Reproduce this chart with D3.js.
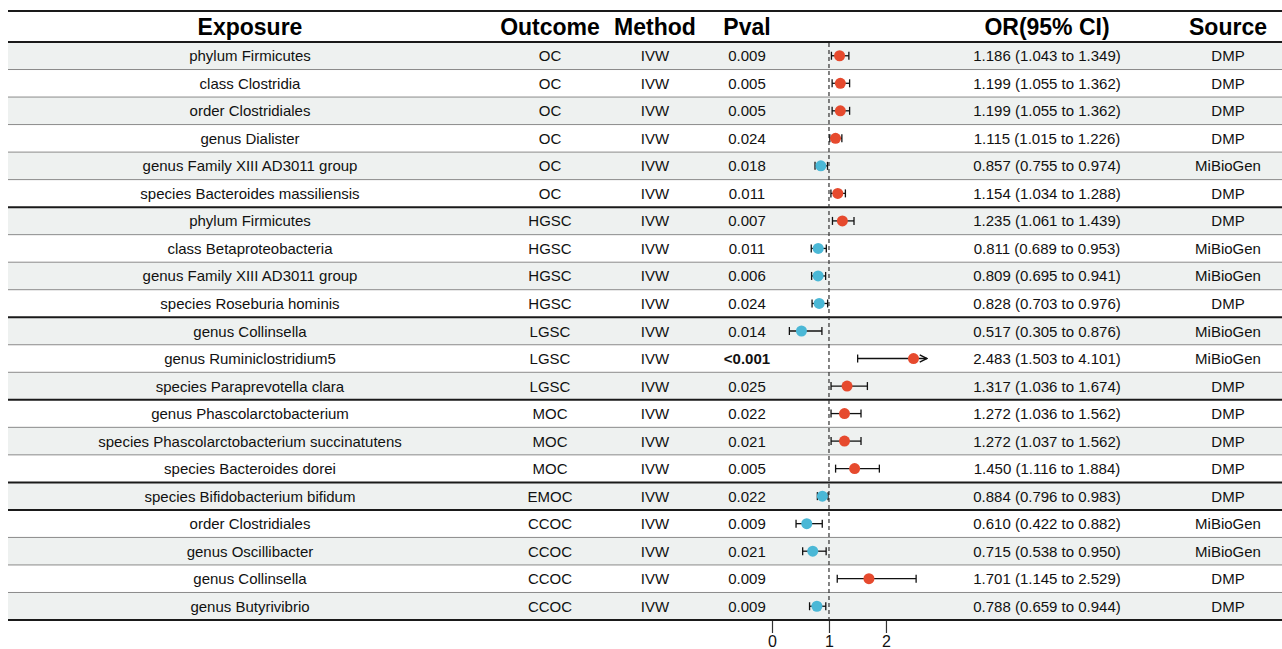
<!DOCTYPE html>
<html>
<head>
<meta charset="utf-8">
<script src="https://cdn.jsdelivr.net/npm/d3@7"></script>
<style>
  html, body { margin: 0; padding: 0; background: #fff; }
  svg text { font-family: "Liberation Sans", Arial, Helvetica, sans-serif; }
</style>
</head>
<body>
<svg id="chart" width="1282" height="649"></svg>
<script>
const exposures = ["phylum Firmicutes","class Clostridia","order Clostridiales","genus Dialister","genus Family XIII AD3011 group","species Bacteroides massiliensis","phylum Firmicutes","class Betaproteobacteria","genus Family XIII AD3011 group","species Roseburia hominis","genus Collinsella","genus Ruminiclostridium5","species Paraprevotella clara","genus Phascolarctobacterium","species Phascolarctobacterium succinatutens","species Bacteroides dorei","species Bifidobacterium bifidum","order Clostridiales","genus Oscillibacter","genus Collinsella","genus Butyrivibrio"];
const outcomes = ["OC","OC","OC","OC","OC","OC","HGSC","HGSC","HGSC","HGSC","LGSC","LGSC","LGSC","MOC","MOC","MOC","EMOC","CCOC","CCOC","CCOC","CCOC"];
const methods = Array(21).fill("IVW");
const pvals = ["0.009","0.005","0.005","0.024","0.018","0.011","0.007","0.011","0.006","0.024","0.014","<0.001","0.025","0.022","0.021","0.005","0.022","0.009","0.021","0.009","0.009"];
const orValues = [1.186,1.199,1.199,1.115,0.857,1.154,1.235,0.811,0.809,0.828,0.517,2.483,1.317,1.272,1.272,1.450,0.884,0.610,0.715,1.701,0.788];
const ciLower = [1.043,1.055,1.055,1.015,0.755,1.034,1.061,0.689,0.695,0.703,0.305,1.503,1.036,1.036,1.037,1.116,0.796,0.422,0.538,1.145,0.659];
const ciUpper = [1.349,1.362,1.362,1.226,0.974,1.288,1.439,0.953,0.941,0.976,0.876,4.101,1.674,1.562,1.562,1.884,0.983,0.882,0.950,2.529,0.944];
const sources = ["DMP","DMP","DMP","DMP","MiBioGen","DMP","DMP","MiBioGen","MiBioGen","DMP","MiBioGen","MiBioGen","DMP","DMP","DMP","DMP","DMP","MiBioGen","MiBioGen","DMP","DMP"];
const headers = ["Exposure","Outcome","Method","Pval","","OR(95% CI)","Source"];
const xTicks = [0,1,2];

const svg = d3.select("#chart");
const n = exposures.length;
const left = 8, right = 1282;
const tableTop = 11, headerBottom = 42, tableBottom = 620;

const y = d3.scaleBand().domain(d3.range(n)).range([headerBottom, tableBottom]).padding(0);
const x = d3.scaleLinear().domain([0, 2.72]).range([772, 927]);

const colX = {exposure: 250, outcome: 550, method: 655, pval: 747, or: 1047, source: 1228};
const fmt = d3.format(".3f");

// stripes
svg.append("g").selectAll("rect").data(d3.range(n).filter(i => i % 2 === 0)).join("rect")
  .attr("x", left).attr("width", right - left)
  .attr("y", i => y(i)).attr("height", y.bandwidth())
  .attr("fill", "#eef1f0");

// row separators
const groupEnds = new Set();
for (let i = 0; i < n - 1; i++) if (outcomes[i] !== outcomes[i + 1]) groupEnds.add(i);
svg.append("g").selectAll("line").data(d3.range(n - 1)).join("line")
  .attr("x1", left).attr("x2", right)
  .attr("y1", i => y(i) + y.bandwidth()).attr("y2", i => y(i) + y.bandwidth())
  .attr("stroke", i => groupEnds.has(i) ? "#1a1a1a" : "#8a8a8a")
  .attr("stroke-width", i => groupEnds.has(i) ? 2 : 1);

// main lines
[tableTop, headerBottom, tableBottom].forEach(yy => {
  svg.append("line").attr("x1", left).attr("x2", right).attr("y1", yy).attr("y2", yy)
    .attr("stroke", "#1a1a1a").attr("stroke-width", 2.2);
});

// headers
const headerPos = [colX.exposure, colX.outcome, colX.method, colX.pval, null, colX.or, colX.source];
svg.append("g").selectAll("text").data(headers.map((h, i) => ({h, x: headerPos[i]})).filter(d => d.h))
  .join("text")
  .attr("x", d => d.x).attr("y", 35)
  .attr("text-anchor", "middle")
  .attr("font-size", 23).attr("font-weight", "bold").attr("fill", "#000")
  .text(d => d.h);

// body text
const rows = d3.range(n).map(i => ({i,
  exposure: exposures[i], outcome: outcomes[i], method: methods[i], pval: pvals[i],
  or: `${fmt(orValues[i])} (${fmt(ciLower[i])} to ${fmt(ciUpper[i])})`, source: sources[i]}));
const cols = ["exposure","outcome","method","pval","or","source"];
const body = svg.append("g");
cols.forEach(c => {
  body.selectAll(null).data(rows).join("text")
    .attr("x", colX[c]).attr("y", d => y(d.i) + y.bandwidth() / 2 + 5.5)
    .attr("text-anchor", "middle").attr("font-size", 15).attr("fill", "#111")
    .attr("font-weight", d => (c === "pval" && d.pval.startsWith("<")) ? "bold" : "normal")
    .text(d => d[c]);
});

// reference line
svg.append("line").attr("x1", x(1)).attr("x2", x(1)).attr("y1", headerBottom + 1).attr("y2", tableBottom)
  .attr("stroke", "#333").attr("stroke-width", 1.2).attr("stroke-dasharray", "4,3");

// arrow marker
svg.append("defs").append("marker").attr("id", "arrow")
  .attr("viewBox", "0 0 10 10").attr("refX", 9).attr("refY", 5)
  .attr("markerWidth", 7).attr("markerHeight", 7).attr("orient", "auto")
  .append("path").attr("d", "M1,1 L9,5 L1,9").attr("fill", "none").attr("stroke", "#111").attr("stroke-width", 1.6);

// whiskers
const xmax = x.domain()[1];
const fg = svg.append("g");
rows.forEach(d => {
  const cy = y(d.i) + y.bandwidth() / 2;
  const lo = ciLower[d.i], hi = Math.min(ciUpper[d.i], xmax), clipped = ciUpper[d.i] > xmax;
  fg.append("line").attr("x1", x(lo)).attr("x2", x(hi)).attr("y1", cy).attr("y2", cy)
    .attr("stroke", "#111").attr("stroke-width", 1.3)
    .attr("marker-end", clipped ? "url(#arrow)" : null);
  fg.append("line").attr("x1", x(lo)).attr("x2", x(lo)).attr("y1", cy - 4).attr("y2", cy + 4)
    .attr("stroke", "#111").attr("stroke-width", 1.3);
  if (!clipped) fg.append("line").attr("x1", x(hi)).attr("x2", x(hi)).attr("y1", cy - 4).attr("y2", cy + 4)
    .attr("stroke", "#111").attr("stroke-width", 1.3);
  fg.append("circle").attr("cx", x(orValues[d.i])).attr("cy", cy).attr("r", 5.5)
    .attr("fill", orValues[d.i] >= 1 ? "#e64a2e" : "#4bb8d6");
});

// axis
const axis = d3.axisBottom(x).tickValues(xTicks).tickSize(12).tickPadding(3).tickFormat(d3.format("d"));
const ag = svg.append("g").attr("transform", `translate(0,${tableBottom + 1})`).call(axis);
ag.select(".domain").remove();
ag.selectAll(".tick line").attr("stroke", "#333").attr("stroke-width", 1.2);
ag.selectAll(".tick text").attr("font-size", 16).attr("fill", "#111")
  .attr("font-family", "Liberation Sans, Arial, sans-serif");
</script>
</body>
</html>
